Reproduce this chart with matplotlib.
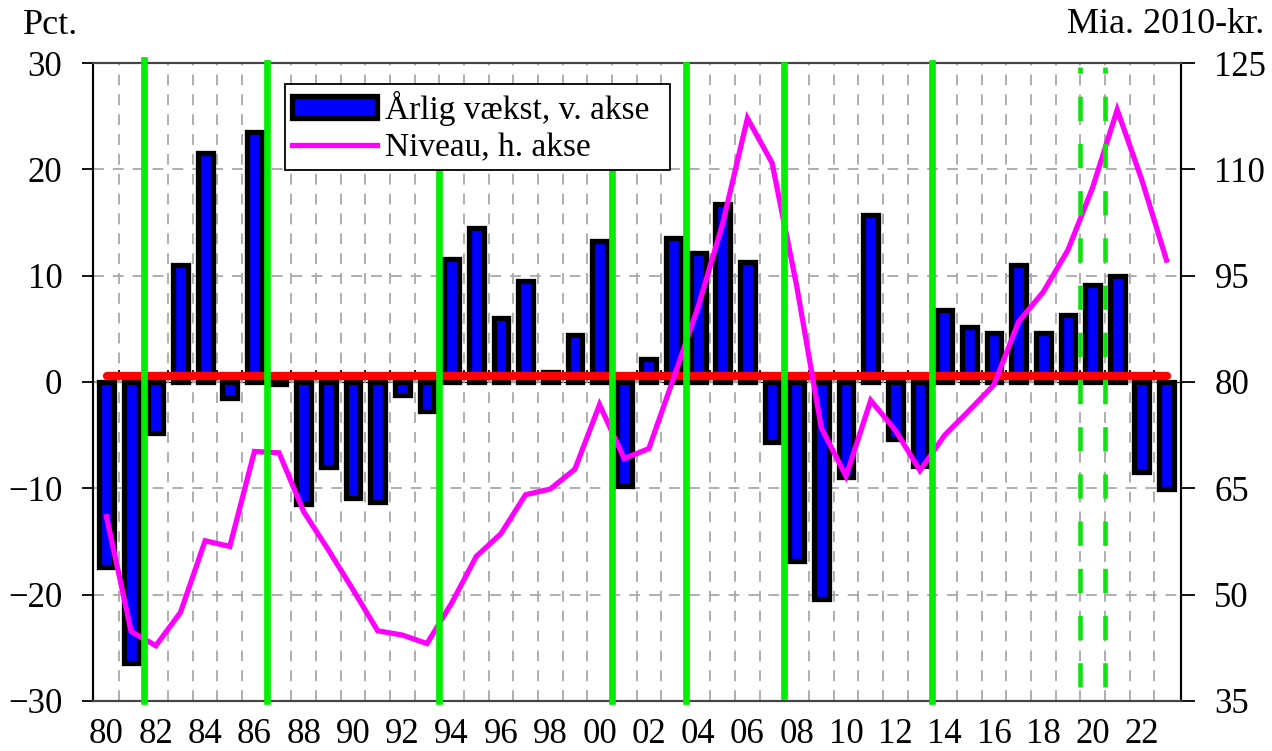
import matplotlib
matplotlib.use("Agg")
import matplotlib.pyplot as plt
import numpy as np

# ---------------- data ----------------
years = list(range(1980, 2024))
growth = [-17.4, -26.4, -4.8, 11.0, 21.5, -1.5, 23.5, -0.2, -11.5, -8.0,
          -10.9, -11.3, -1.2, -2.7, 11.6, 14.5, 6.0, 9.5, 0.9, 4.4,
          13.3, -9.8, 2.2, 13.5, 12.1, 16.7, 11.3, -5.6, -16.8, -20.4,
          -8.9, 15.7, -5.4, -7.9, 6.8, 5.2, 4.6, 11.0, 4.6, 6.3,
          9.1, 10.0, -8.5, -10.1]
level = [61.0, 44.8, 42.8, 47.5, 57.6, 56.8, 70.2, 70.0, 61.7, 56.3,
         50.7, 44.9, 44.3, 43.1, 48.8, 55.4, 58.6, 64.1, 64.9, 67.7,
         76.8, 69.2, 70.6, 80.5, 90.6, 102.4, 117.2, 110.9, 93.5, 73.5,
         66.7, 77.4, 73.2, 67.5, 72.5, 76.0, 79.6, 88.5, 92.7, 98.6,
         107.4, 118.4, 108.5, 97.2]
average_growth = 0.6
green_solid = [1981.5, 1986.5, 1993.5, 2000.5, 2003.5, 2007.5, 2013.5]
green_solid_top = [30.3, 30, 20, 20, 29.8, 29.8, 30]
green_solid_bottom = [-30, -30, -30, -30, -30, -29.5, -30]
green_dashed = [2019.5, 2020.5]
xtick_years = list(range(1980, 2023, 2))
xtick_labels = [f"{y % 100:02d}" for y in xtick_years]
left_ticks = list(range(-30, 31, 10))
right_ticks = list(range(35, 126, 15))
label_growth = "Årlig vækst, v. akse"
label_level = "Niveau, h. akse"

plt.rcParams['font.family'] = ['Liberation Serif', 'DejaVu Serif']

fig = plt.figure(figsize=(12.72, 7.51), dpi=100)
ax = fig.add_axes([0.0731, 0.0666, 0.8554, 0.8495])
ax.set_xlim(1979.45, 2023.59)
ax.set_ylim(-30, 30)
ax2 = ax.twinx()
ax2.set_ylim(35, 125)

boundaries = [y + 0.5 for y in years[:-1]]

# grid
grid_kw = dict(color='#a8a8a8', linewidth=1.3, linestyle=(0, (6, 5)))
ax.set_xticks(boundaries, minor=True)
ax.grid(which='minor', axis='x', **grid_kw)
ax.set_yticks(left_ticks)
ax.grid(which='major', axis='y', **grid_kw)
ax.set_axisbelow(True)

# bars
bars = ax.bar(years, growth, width=0.6, color='#0000ff', edgecolor='black',
              linewidth=3.8, zorder=3, label=label_growth)

# average line
ax.plot([years[0], years[-1]], [average_growth, average_growth], color='#ff0000',
        linewidth=6, solid_capstyle='round', zorder=4)

# level line on right axis
line, = ax2.plot(years, level, color='#ff00ff', linewidth=3.8, zorder=3,
                 label=label_level, solid_joinstyle='miter')

# green vertical lines (drawn above level line)
for x, top, bot in zip(green_solid, green_solid_top, green_solid_bottom):
    ax2.plot([x, x], [bot, top], transform=ax.transData, color='#00ee00',
             linewidth=4.8, zorder=4, clip_on=False)
for x in green_dashed:
    ax2.plot([x, x], [-28.7, 29.6], transform=ax.transData, color='#11e011',
             linewidth=3.3, linestyle=(0, (5.3, 5.0)), zorder=4)

# zero axis with ticks at boundaries
sec = ax.secondary_xaxis(0.5)
sec.set_xticks(boundaries)
sec.tick_params(axis='x', direction='out', length=9, width=1.3, color='black',
                labelbottom=False, labeltop=False)
sec.spines['bottom'].set_linewidth(2.2)
sec.spines['bottom'].set_color('black')

# x tick labels at bottom
ax.set_xticks(xtick_years)
ax.set_xticklabels(xtick_labels)
ax.tick_params(axis='x', which='both', length=0, pad=12, labelsize=25)

ax.tick_params(axis='y', direction='out', length=8, width=1.3, pad=14,
               labelsize=25)
ax2.set_yticks(right_ticks)
ax2.tick_params(axis='y', direction='out', length=10, width=1.3, pad=14,
                labelsize=25)

for a in (ax, ax2):
    a.spines['left'].set_color('black')
    a.spines['right'].set_color('black')
    a.spines['left'].set_linewidth(1.5)
    a.spines['right'].set_linewidth(1.5)
    a.spines['top'].set_color('#444444')
    a.spines['bottom'].set_color('#444444')
    a.spines['top'].set_linewidth(1.5)
    a.spines['bottom'].set_linewidth(1.5)

leg = ax2.legend([bars, line], [label_growth, label_level], loc='upper left',
                 bbox_to_anchor=(0.1765, 0.967, 0.354, 0.0), mode='expand',
                 borderaxespad=0,
                 fontsize=24, frameon=True, fancybox=False, framealpha=1,
                 edgecolor='black', handlelength=2.55, handletextpad=0.25,
                 borderpad=0.2, labelspacing=0.22, handleheight=0.6)
leg.get_frame().set_linewidth(1.3)
leg.set_zorder(10)

fig.text(23 / 1272, 1 - 34 / 751, "Pct.", fontsize=26, ha='left', va='baseline')
fig.text(1264 / 1272, 1 - 33 / 751, "Mia. 2010-kr.", fontsize=26, ha='right',
         va='baseline')

fig.savefig("out.png", dpi=100)
